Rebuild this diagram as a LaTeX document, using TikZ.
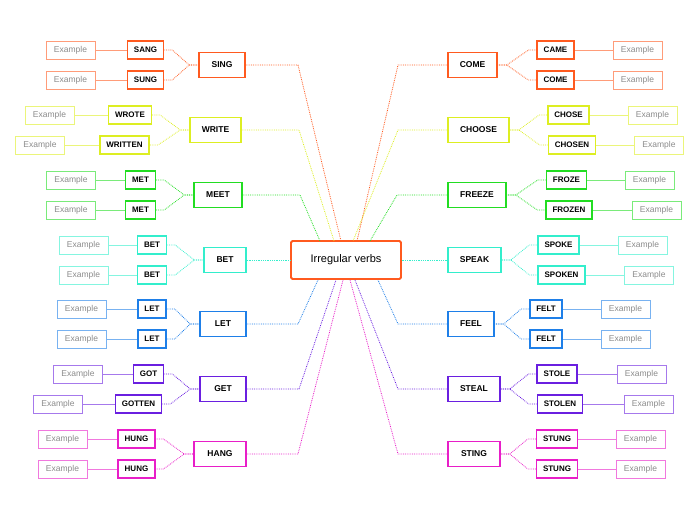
\documentclass[tikz,border=0pt]{standalone}
\usepackage{fontspec}
\setmainfont{Liberation Sans}
\usetikzlibrary{calc}
\definecolor{cO}{HTML}{FF5A1F}
\definecolor{cY}{HTML}{DDEE22}
\definecolor{cG}{HTML}{22DD22}
\definecolor{cT}{HTML}{33EECC}
\definecolor{cB}{HTML}{1E7FE8}
\definecolor{cP}{HTML}{6A1FE0}
\definecolor{cM}{HTML}{E81EC8}
\tikzset{
 mainbox/.style={draw=#1,line width=1.6pt,fill=white,font=\fontsize{8.5}{9}\selectfont\bfseries,minimum height=25pt,inner xsep=2pt,text=black},
 childbox/.style={draw=#1,line width=1.5pt,fill=white,font=\fontsize{8}{9}\selectfont\bfseries,minimum height=18pt,inner xsep=6.5pt,text=black},
 exbox/.style={draw=#1!60,line width=0.8pt,fill=white,font=\fontsize{8.5}{9}\selectfont,minimum height=18pt,minimum width=49pt,inner xsep=1pt,text=gray!90},
 link/.style={draw=#1,densely dotted,line width=0.8pt},
 exlink/.style={draw=#1!60,line width=0.6pt},
}
\newcommand\mainnode[6]{% id color x y width text
 \node[mainbox=#2,minimum width=#5] (#1) at (#3,#4) {#6};}
\newcommand\childL[6]{% id color main x y text
 \node[childbox=#2] (#1) at (#3,#4) {#6};
 \draw[link=#2] (#1.east) -- ++(8,0) -- ($(#5.west)+(-9,0)$) -- (#5.west);}
\newcommand\childR[6]{%
 \node[childbox=#2] (#1) at (#3,#4) {#6};
 \draw[link=#2] (#1.west) -- ++(-8,0) -- ($(#5.east)+(9,0)$) -- (#5.east);}
\newcommand\exL[4]{% id color x child
 \node[exbox=#2] (#1) at (#3,0 |- #4) {Example};
 \draw[exlink=#2] (#1.east) -- (#4.west);}
\newcommand\exR[4]{%
 \node[exbox=#2] (#1) at (#3,0 |- #4) {Example};
 \draw[exlink=#2] (#1.west) -- (#4.east);}
\begin{document}
\begin{tikzpicture}[x=1pt,y=-1pt]
\useasboundingbox (0,0) rectangle (696,520);
\node[draw=cO,line width=1.8pt,rounded corners=1.5pt,fill=white,minimum width=110pt,minimum height=38pt,font=\fontsize{11}{12}\selectfont] (C) at (346,260) {Irregular verbs};
% left mains
\mainnode{m1}{cO}{222}{65}{46pt}{SING}
\mainnode{m2}{cY}{215.5}{130}{51pt}{WRITE}
\mainnode{m3}{cG}{218}{195}{48pt}{MEET}
\mainnode{m4}{cT}{225}{260}{42pt}{BET}
\mainnode{m5}{cB}{223}{324}{46pt}{LET}
\mainnode{m6}{cP}{223}{389}{46pt}{GET}
\mainnode{m7}{cM}{220}{454}{52pt}{HANG}
% right mains
\mainnode{n1}{cO}{472.5}{65}{49pt}{COME}
\mainnode{n2}{cY}{478.5}{130}{61pt}{CHOOSE}
\mainnode{n3}{cG}{477}{195}{58pt}{FREEZE}
\mainnode{n4}{cT}{474.5}{260}{53pt}{SPEAK}
\mainnode{n5}{cB}{471}{324}{46pt}{FEEL}
\mainnode{n6}{cP}{474}{389}{52pt}{STEAL}
\mainnode{n7}{cM}{474}{454}{52pt}{STING}
% to center
\draw[link=cO] (m1.east) -- (298,65) -- (341,241);
\draw[link=cY] (m2.east) -- (299,130) -- (334,241);
\draw[link=cG] (m3.east) -- (300,195) -- (320,241);
\draw[link=cT] (m4.east) -- (C.west);
\draw[link=cB] (m5.east) -- (298,324) -- (318,280);
\draw[link=cP] (m6.east) -- (299,389) -- (336,280);
\draw[link=cM] (m7.east) -- (298,454) -- (343,280);
\draw[link=cO] (n1.west) -- (398,65) -- (357,241);
\draw[link=cY] (n2.west) -- (398,130) -- (353,241);
\draw[link=cG] (n3.west) -- (397,195) -- (370,241);
\draw[link=cT] (n4.west) -- (C.east);
\draw[link=cB] (n5.west) -- (398,324) -- (378,280);
\draw[link=cP] (n6.west) -- (398,389) -- (355,280);
\draw[link=cM] (n7.west) -- (398,454) -- (350,280);
% left children
\childL{a1}{cO}{145.5}{50}{m1}{SANG}\exL{e1}{cO}{70.5}{a1}
\childL{a2}{cO}{145.5}{80}{m1}{SUNG}\exL{e2}{cO}{70.5}{a2}
\childL{b1}{cY}{130}{115}{m2}{WROTE}\exL{f1}{cY}{49.5}{b1}
\childL{b2}{cY}{124.5}{145}{m2}{WRITTEN}\exL{f2}{cY}{40}{b2}
\childL{c1}{cG}{140.5}{180}{m3}{MET}\exL{g1}{cG}{71}{c1}
\childL{c2}{cG}{140.5}{210}{m3}{MET}\exL{g2}{cG}{71}{c2}
\childL{d1}{cT}{152}{245}{m4}{BET}\exL{h1}{cT}{83.5}{d1}
\childL{d2}{cT}{152}{275}{m4}{BET}\exL{h2}{cT}{83.5}{d2}
\childL{k1}{cB}{152}{309}{m5}{LET}\exL{i1}{cB}{81.5}{k1}
\childL{k2}{cB}{152}{339}{m5}{LET}\exL{i2}{cB}{81.5}{k2}
\childL{l1}{cP}{148.5}{374}{m6}{GOT}\exL{j1}{cP}{78}{l1}
\childL{l2}{cP}{138.5}{404}{m6}{GOTTEN}\exL{j2}{cP}{58}{l2}
\childL{o1}{cM}{136.5}{439}{m7}{HUNG}\exL{q1}{cM}{62.5}{o1}
\childL{o2}{cM}{136.5}{469}{m7}{HUNG}\exL{q2}{cM}{62.5}{o2}
% right children
\childR{A1}{cO}{555.5}{50}{n1}{CAME}\exR{E1}{cO}{637.5}{A1}
\childR{A2}{cO}{555.5}{80}{n1}{COME}\exR{E2}{cO}{637.5}{A2}
\childR{B1}{cY}{568.5}{115}{n2}{CHOSE}\exR{F1}{cY}{652.5}{B1}
\childR{B2}{cY}{572}{145}{n2}{CHOSEN}\exR{F2}{cY}{659}{B2}
\childR{C1}{cG}{566.5}{180}{n3}{FROZE}\exR{G1}{cG}{649.5}{C1}
\childR{C2}{cG}{569}{210}{n3}{FROZEN}\exR{G2}{cG}{656.5}{C2}
\childR{D1}{cT}{558.5}{245}{n4}{SPOKE}\exR{H1}{cT}{642.5}{D1}
\childR{D2}{cT}{561.5}{275}{n4}{SPOKEN}\exR{H2}{cT}{649}{D2}
\childR{K1}{cB}{546}{309}{n5}{FELT}\exR{I1}{cB}{625.5}{K1}
\childR{K2}{cB}{546}{339}{n5}{FELT}\exR{I2}{cB}{625.5}{K2}
\childR{L1}{cP}{557}{374}{n6}{STOLE}\exR{J1}{cP}{641.5}{L1}
\childR{L2}{cP}{560}{404}{n6}{STOLEN}\exR{J2}{cP}{648.5}{L2}
\childR{O1}{cM}{557}{439}{n7}{STUNG}\exR{Q1}{cM}{640.5}{O1}
\childR{O2}{cM}{557}{469}{n7}{STUNG}\exR{Q2}{cM}{640.5}{O2}
\end{tikzpicture}
\end{document}
